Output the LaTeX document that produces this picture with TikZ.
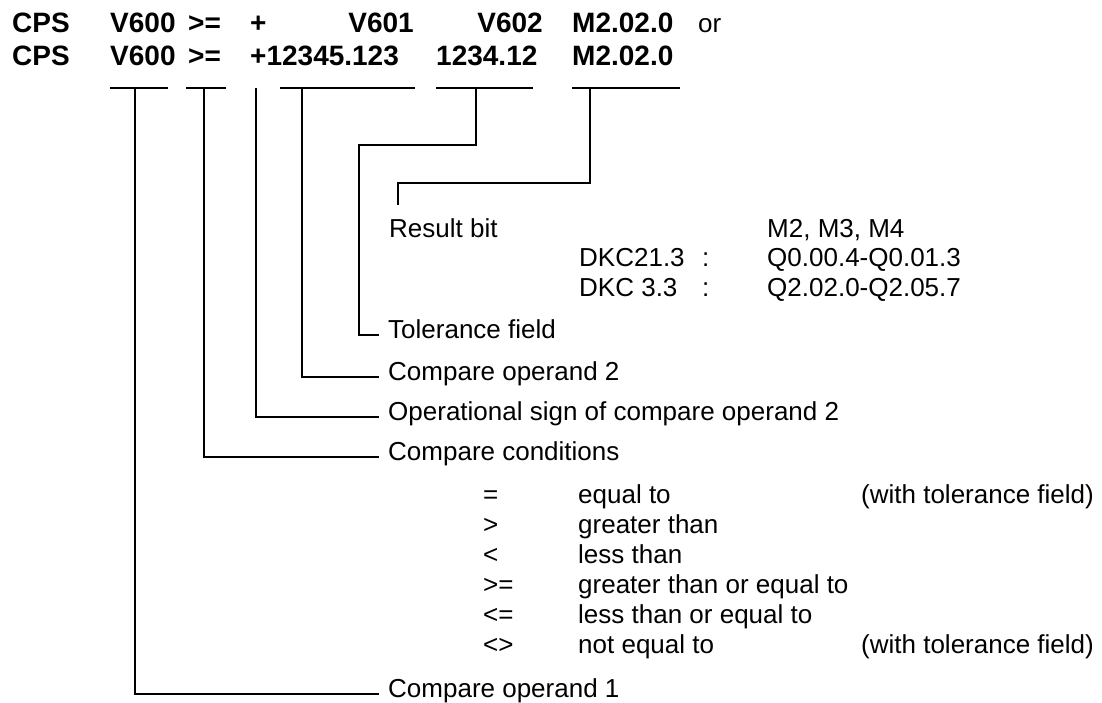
\documentclass[tikz,border=0pt]{standalone}
\usepackage{fontspec}
\setmainfont{Liberation Sans}
\begin{document}
\begin{tikzpicture}[x=1pt,y=-1pt,
  hd/.style={font=\fontsize{28}{30}\selectfont\bfseries, anchor=base west, inner sep=0pt},
  hde/.style={hd, anchor=base east},
  tx/.style={font=\fontsize{26}{28}\selectfont, anchor=base west, inner sep=0pt},
  ln/.style={line width=1.6pt, line cap=butt, line join=miter}]
\fill[white] (0,0) rectangle (1102,702);
\useasboundingbox (0,0) rectangle (1102,702);
% row 1
\node[hd] (a1) at (12,32) {CPS};
\node[hd] (a2) at (110,32) {V600};
\node[hd] (a3) at (188,32) {>=};
\node[hd] (a4) at (250,32) {+};
\node[hde] (a5) at (414,32) {V601};
\node[hde] (a6) at (543,32) {V602};
\node[hd] (a7) at (572,32) {M2.02.0};
\node[tx] (a8) at (698,32) {or};
% row 2
\node[hd] (b1) at (12,65) {CPS};
\node[hd] (b2) at (110,65) {V600};
\node[hd] (b3) at (188,65) {>=};
\node[hd] (b4) at (250,65) {+12345.123};
\node[hd] (b5) at (436,65) {1234.12};
\node[hd] (b6) at (572,65) {M2.02.0};
% underlines
\coordinate (u1) at (110,88); \coordinate (u1e) at (168,88);
\coordinate (u2) at (186,88); \coordinate (u2e) at (226,88);
\coordinate (u4) at (280,88); \coordinate (u4e) at (415,88);
\coordinate (u5) at (436,88); \coordinate (u5e) at (533,88);
\coordinate (u6) at (572,88); \coordinate (u6e) at (680,88);
\draw[ln] (u1) -- (u1e);
\draw[ln] (u2) -- (u2e);
\draw[ln] (u4) -- (u4e);
\draw[ln] (u5) -- (u5e);
\draw[ln] (u6) -- (u6e);
% stem starts
\coordinate (s1) at (135,88);
\coordinate (s2) at (204,88);
\coordinate (s3) at (256,88);
\coordinate (s4) at (302,88);
\coordinate (s5) at (476,88);
\coordinate (s6) at (590,88);
% labels
\node[tx] (rb) at (389,237) {Result bit};
\node[tx] (mm) at (767,237) {M2, M3, M4};
\node[tx] (d1) at (579,266) {DKC21.3};
\node[tx] (c1) at (702,266) {:};
\node[tx] (q1) at (767,266) {Q0.00.4-Q0.01.3};
\node[tx] (d2) at (579,296) {DKC 3.3};
\node[tx] (c2) at (702,296) {:};
\node[tx] (q2) at (767,296) {Q2.02.0-Q2.05.7};
\node[tx] (tf) at (388,338) {Tolerance field};
\node[tx] (o2) at (388,380) {Compare operand 2};
\node[tx] (os) at (388,420) {Operational sign of compare operand 2};
\node[tx] (cc) at (388,460) {Compare conditions};
\node[tx] (o1) at (388,697) {Compare operand 1};
% conditions
\node[tx] (k1) at (483,503) {=};
\node[tx] (k2) at (483,533) {>};
\node[tx] (k3) at (483,563) {<};
\node[tx] (k4) at (483,593) {>=};
\node[tx] (k5) at (483,623) {<=};
\node[tx] (k6) at (483,653) {<>};
\node[tx] (e1) at (578,503) {equal to};
\node[tx] (e2) at (578,533) {greater than};
\node[tx] (e3) at (578,563) {less than};
\node[tx] (e4) at (578,593) {greater than or equal to};
\node[tx] (e5) at (578,623) {less than or equal to};
\node[tx] (e6) at (578,653) {not equal to};
\node[tx] (w1) at (861,503) {(with tolerance field)};
\node[tx] (w6) at (861,653) {(with tolerance field)};
% connectors
\coordinate (rbend) at (398,205);
\draw[ln] (s6) |- (398,183) -- (rbend);
\draw[ln] (s5) |- (359,145) |- ([xshift=-9pt,yshift=3pt]tf.base west);
\draw[ln] (s4) |- ([xshift=-9pt,yshift=3pt]o2.base west);
\draw[ln] (s3) |- ([xshift=-9pt,yshift=3pt]os.base west);
\draw[ln] (s2) |- ([xshift=-9pt,yshift=3pt]cc.base west);
\draw[ln] (s1) |- ([xshift=-9pt,yshift=3pt]o1.base west);
\end{tikzpicture}
\end{document}
